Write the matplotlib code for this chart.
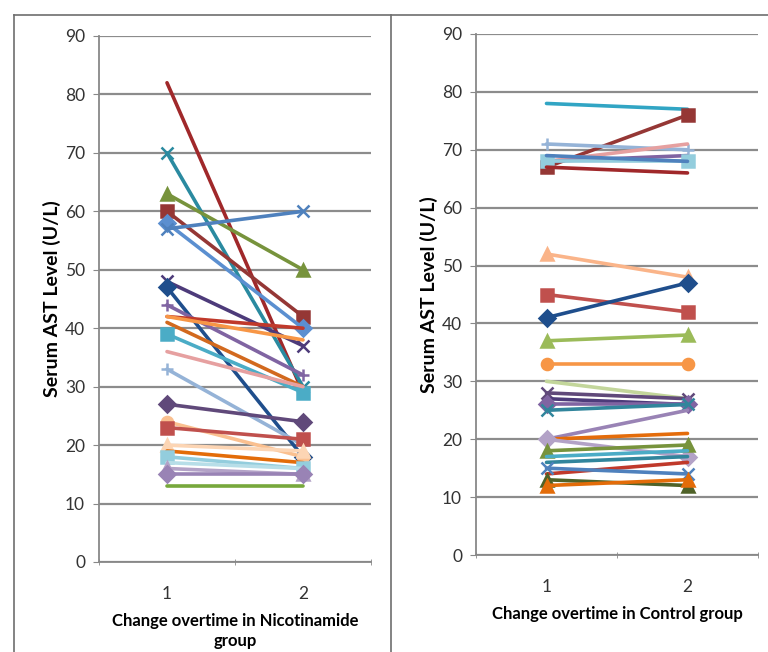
import matplotlib
matplotlib.use("Agg")
import matplotlib.pyplot as plt
from matplotlib.lines import Line2D

plt.rcParams['font.family'] = ['Lato', 'DejaVu Sans']

times = [1, 2]

# Nicotinamide group, value at time 1 and time 2
nic_t1 = [82, 70, 63, 60, 58, 57, 48, 47, 44, 42, 42, 41, 39, 36, 33, 27, 24, 23, 20, 19, 18, 17, 16, 15, 13]
nic_t2 = [29, 30, 50, 42, 40, 60, 37, 18, 32, 40, 38, 30, 29, 30, 20, 24, 18, 21, 19, 17, 16, 16, 15, 15, 13]

# Control group
ctl_t1 = [78, 67, 71, 68, 68, 68, 69, 67, 52, 45, 41, 37, 33, 30, 28, 27, 26, 25, 20, 20, 20, 18, 17, 16, 14, 15, 13, 12]
ctl_t2 = [77, 76, 70, 71, 69, 68, 68, 66, 48, 42, 47, 38, 33, 27, 27, 26, 26, 26, 25, 21, 17, 19, 18, 17, 16, 14, 12, 13]

nic_colors = ['#A0282A', '#2A8AA0', '#77933C', '#953735', '#5B8FD0', '#4F81BD', '#4D3B7A',
              '#1F4E8C', '#8064A2', '#C0392B', '#F79646', '#D2691E', '#4BACC6', '#E6A0A0',
              '#95B3D7', '#60497A', '#FAC090', '#C0504D', '#FCD5B4', '#E36C09', '#93CDDD',
              '#B7DEE8', '#B3A2C7', '#9983B5', '#77A83C']
nic_markers = ['', 'x', '^', 's', 'D', 'x', 'x', 'D', '+', '', '', '', 's', '', '+', 'D',
               'o', 's', '^', '', 's', '', '^', 'D', '']

ctl_colors = ['#31A5C4', '#953735', '#95B3D7', '#E6A0A0', '#8064A2', '#93CDDD', '#4F81BD',
              '#A0282A', '#FAB489', '#C0504D', '#1F4E8C', '#9BBB59', '#F79646', '#C3D69B',
              '#60497A', '#4D3B7A', '#8064A2', '#31859C', '#9983B5', '#E46C0A', '#B3A2C7',
              '#77933C', '#4BACC6', '#31859C', '#C0392B', '#4F81BD', '#4F6228', '#E36C09']
ctl_markers = ['', 's', '+', '', '', 's', '', '', '^', 's', 'D', '^', 'o', '', 'x', '',
               'D', 'x', '', '', 'D', '^', '', '', '', 'x', '^', '^']

fig = plt.figure(figsize=(7.68, 6.52), dpi=100)

# panel frames
fig.add_artist(Line2D([14 / 768, 768 / 768], [1 - 15 / 652, 1 - 15 / 652], color='#6e6e6e', lw=1.2))
fig.add_artist(Line2D([14 / 768, 14 / 768], [0, 1 - 15 / 652], color='#6e6e6e', lw=1.2))
fig.add_artist(Line2D([391 / 768, 391 / 768], [0, 1 - 15 / 652], color='#6e6e6e', lw=1.2))


def draw_panel(ax, t1, t2, colors, markers, xlabel):
    for a, b, c, m in zip(t1, t2, colors, markers):
        ax.plot(times, [a, b], color=c, lw=2.6, marker=m if m else None,
                markersize=8, markeredgewidth=1.8, solid_capstyle='round')
    ax.set_xlim(0.5, 2.5)
    ax.set_ylim(0, 90)
    ax.set_yticks(range(0, 91, 10))
    ax.set_xticks(times)
    ax.set_xticks([0.5, 1.5, 2.5], minor=True)
    ax.tick_params(axis='x', which='major', length=0, labelsize=12.5, pad=17, labelcolor='#333333')
    ax.tick_params(axis='x', which='minor', length=5, direction='inout', color='#888888')
    ax.tick_params(axis='y', length=4, color='#888888', labelsize=12.5, pad=6, labelcolor='#333333')
    ax.grid(axis='y', color='#8c8c8c', lw=1.6)
    ax.set_axisbelow(True)
    for s in ['top', 'right']:
        ax.spines[s].set_visible(False)
    for s in ['left', 'bottom']:
        ax.spines[s].set_color('#888888')
        ax.spines[s].set_linewidth(1.3)
    ax.set_ylabel('Serum AST Level (U/L)', fontsize=14, fontweight='bold', labelpad=3)
    ax.set_xlabel(xlabel, fontsize=12, fontweight='bold', labelpad=8, linespacing=1.3)


ax1 = fig.add_axes([99 / 768, 1 - 562 / 652, 272 / 768, 526 / 652])
draw_panel(ax1, nic_t1, nic_t2, nic_colors, nic_markers,
           'Change overtime in Nicotinamide\ngroup')

ax2 = fig.add_axes([476 / 768, 1 - 555 / 652, 282 / 768, 521 / 652])
draw_panel(ax2, ctl_t1, ctl_t2, ctl_colors, ctl_markers,
           'Change overtime in Control group')

fig.savefig('out.png', dpi=100)
